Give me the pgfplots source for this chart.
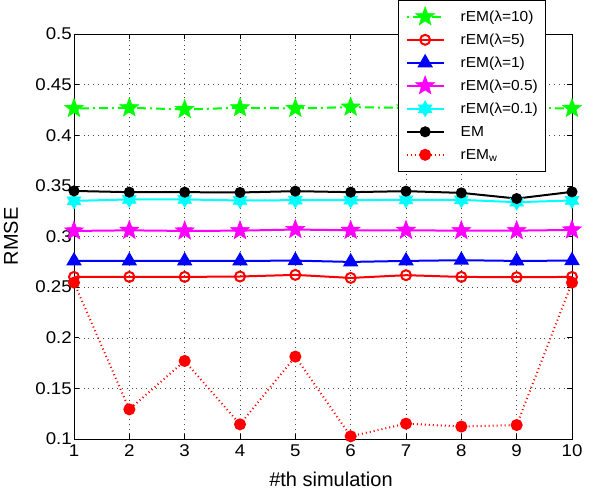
\documentclass[border=0pt]{standalone}
\usepackage{fontspec}
\setmainfont{Liberation Sans}
\newfontfamily\tickfont{Liberation Sans}[FakeStretch=1.1]
\newfontfamily\legfont{Liberation Sans}[FakeStretch=1.07]
\usepackage{pgfplots}
\pgfplotsset{compat=1.18}
\pgfdeclareplotmark{pstar}{%
  \pgfpathmoveto{\pgfpointpolar{90}{\pgfplotmarksize}}%
  \pgfpathlineto{\pgfpointpolar{126}{0.42\pgfplotmarksize}}%
  \pgfpathlineto{\pgfpointpolar{162}{\pgfplotmarksize}}%
  \pgfpathlineto{\pgfpointpolar{198}{0.42\pgfplotmarksize}}%
  \pgfpathlineto{\pgfpointpolar{234}{\pgfplotmarksize}}%
  \pgfpathlineto{\pgfpointpolar{270}{0.42\pgfplotmarksize}}%
  \pgfpathlineto{\pgfpointpolar{306}{\pgfplotmarksize}}%
  \pgfpathlineto{\pgfpointpolar{342}{0.42\pgfplotmarksize}}%
  \pgfpathlineto{\pgfpointpolar{18}{\pgfplotmarksize}}%
  \pgfpathlineto{\pgfpointpolar{54}{0.42\pgfplotmarksize}}%
  \pgfpathclose
  \pgfusepathqfillstroke}
\pgfdeclareplotmark{hstar}{%
  \pgfpathmoveto{\pgfpointpolar{90}{\pgfplotmarksize}}%
  \pgfpathlineto{\pgfpointpolar{120}{0.58\pgfplotmarksize}}%
  \pgfpathlineto{\pgfpointpolar{150}{\pgfplotmarksize}}%
  \pgfpathlineto{\pgfpointpolar{180}{0.58\pgfplotmarksize}}%
  \pgfpathlineto{\pgfpointpolar{210}{\pgfplotmarksize}}%
  \pgfpathlineto{\pgfpointpolar{240}{0.58\pgfplotmarksize}}%
  \pgfpathlineto{\pgfpointpolar{270}{\pgfplotmarksize}}%
  \pgfpathlineto{\pgfpointpolar{300}{0.58\pgfplotmarksize}}%
  \pgfpathlineto{\pgfpointpolar{330}{\pgfplotmarksize}}%
  \pgfpathlineto{\pgfpointpolar{0}{0.58\pgfplotmarksize}}%
  \pgfpathlineto{\pgfpointpolar{30}{\pgfplotmarksize}}%
  \pgfpathlineto{\pgfpointpolar{60}{0.58\pgfplotmarksize}}%
  \pgfpathclose
  \pgfusepathqfillstroke}
\definecolor{mgreen}{rgb}{0,1,0}
\definecolor{mred}{rgb}{1,0,0}
\definecolor{mblue}{rgb}{0,0,1}
\definecolor{mmag}{rgb}{1,0,1}
\definecolor{mcyan}{rgb}{0,1,1}
\begin{document}
\begin{tikzpicture}
\begin{axis}[
  scale only axis,
  width=498pt, height=405pt,
  xmin=1, xmax=10, ymin=0.1, ymax=0.5,
  xtick={1,2,...,10},
  ytick={0.1,0.15,0.2,0.25,0.3,0.35,0.4,0.45,0.5},
  yticklabel style={/pgf/number format/fixed,/pgf/number format/precision=2, inner xsep=2pt},
  xticklabel style={inner ysep=5.5pt},
  /pgf/number format/assume math mode=true,
  tick label style={font=\tickfont\fontsize{17}{19}\selectfont},
  label style={font=\fontsize{20}{22}\selectfont, inner sep=0pt},
  xlabel={\#th simulation},
  ylabel={RMSE},
  xlabel style={at={(axis description cs:0.5,0)}, anchor=center, yshift=-40pt, xshift=8pt},
  ylabel style={at={(axis description cs:-0.1265,0.5)}, anchor=center},
  tick align=inside,
  major tick length=5pt,
  grid=major,
  major grid style={black!70, dash pattern=on 0.8pt off 4pt, line width=0.5pt},
  axis line style={black, line width=0.6pt},
  every tick/.style={black, line width=0.6pt},
  legend style={at={(0.946,1.084)}, anchor=north east, draw=black, fill=white,
    font=\legfont\fontsize{14.5}{16}\selectfont, row sep=0pt,
    inner xsep=7pt, inner ysep=5pt, line width=0.6pt,
    nodes={inner sep=0pt, text height=16.5pt, text depth=6.5pt},
    /tikz/every odd column/.append style={column sep=16pt}},
  legend cell align=left,
  legend image code/.code={%
    \draw[mark repeat=2,mark phase=2] plot coordinates {(0pt,0pt) (18.5pt,0pt) (37pt,0pt)};},
]
\addplot[mgreen, line width=2pt, dash pattern=on 2pt off 4pt on 9pt off 4pt, mark=pstar, mark size=10pt, mark options={solid, fill=mgreen, line width=0.5pt}]
  coordinates {(1,0.4265)(2,0.4271)(3,0.4255)(4,0.4271)(5,0.4265)(6,0.4278)(7,0.4270)(8,0.4270)(9,0.4270)(10,0.4265)};
\addlegendentry{rEM(λ=10)}
\addplot[mred, line width=2pt, mark=o, mark size=5pt, mark options={solid, line width=2pt}]
  coordinates {(1,0.2601)(2,0.2601)(3,0.2601)(4,0.2605)(5,0.2621)(6,0.2591)(7,0.2618)(8,0.2601)(9,0.2598)(10,0.2601)};
\addlegendentry{rEM(λ=5)}
\addplot[mblue, line width=2pt, mark=triangle*, mark size=7pt, mark options={solid, fill=mblue}]
  coordinates {(1,0.2759)(2,0.2759)(3,0.2759)(4,0.2759)(5,0.2762)(6,0.2749)(7,0.2759)(8,0.2766)(9,0.2759)(10,0.2762)};
\addlegendentry{rEM(λ=1)}
\addplot[mmag, line width=2pt, mark=pstar, mark size=10pt, mark options={solid, fill=mmag, line width=0.5pt}]
  coordinates {(1,0.3055)(2,0.3061)(3,0.3055)(4,0.3058)(5,0.3069)(6,0.3061)(7,0.3061)(8,0.3058)(9,0.3058)(10,0.3065)};
\addlegendentry{rEM(λ=0.5)}
\addplot[mcyan, line width=2pt, mark=hstar, mark size=8pt, mark options={solid, fill=mcyan, line width=0.5pt}]
  coordinates {(1,0.3352)(2,0.3366)(3,0.3366)(4,0.3356)(5,0.3359)(6,0.3359)(7,0.3362)(8,0.3362)(9,0.3339)(10,0.3356)};
\addlegendentry{rEM(λ=0.1)}
\addplot[black, line width=2pt, mark=*, mark size=4.5pt, mark options={solid, fill=black}]
  coordinates {(1,0.3450)(2,0.3438)(3,0.3438)(4,0.3435)(5,0.3448)(6,0.3438)(7,0.3448)(8,0.3431)(9,0.3375)(10,0.3441)};
\addlegendentry{EM}
\addplot[mred, line width=2pt, dash pattern=on 1pt off 3pt, mark=*, mark size=5pt, mark options={solid, fill=mred}]
  coordinates {(1,0.2545)(2,0.1293)(3,0.1771)(4,0.1145)(5,0.1814)(6,0.1027)(7,0.1152)(8,0.1123)(9,0.1138)(10,0.2545)};
\addlegendentry{rEM\textsubscript{w}}
\end{axis}
\path (current axis.south west) ++(-74pt,-52pt) (current axis.north east) ++(28pt,34pt);
\end{tikzpicture}
\end{document}
